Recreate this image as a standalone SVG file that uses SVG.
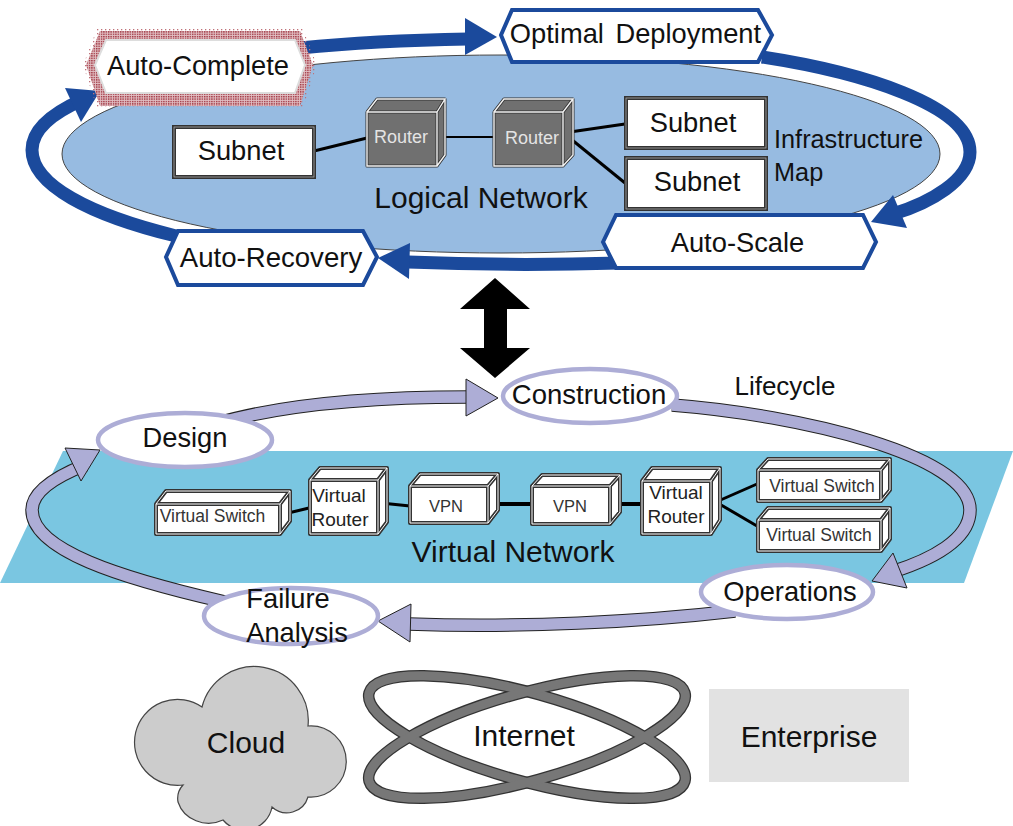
<svg xmlns="http://www.w3.org/2000/svg" width="1013" height="826" viewBox="0 0 1013 826">
<style>
text{font-family:"Liberation Sans",Arial,sans-serif;fill:#111;text-anchor:middle}
.t27{font-size:27.3px}.t30{font-size:30px}.t25{font-size:25.3px}.t17{font-size:17.5px;fill:#333}.t16{font-size:16.5px;fill:#333}.t19{font-size:19px;fill:#222}
.rt{font-size:18px;fill:#e4e4e4}
.hex{fill:#fff;stroke:#1B4A9C;stroke-width:4}
.blue{fill:none;stroke:#1B4A9C;stroke-width:13}
.bh{fill:#1B4A9C}
.pe{fill:none;stroke:#222;stroke-width:13.5}
.pi{fill:none;stroke:#ADADD6;stroke-width:11.5}
.ph{fill:#ADADD6;stroke:#222;stroke-width:1}
.oval{fill:#fff;stroke:#ADADD6;stroke-width:4.5}
.so{fill:#fff;stroke:#333;stroke-width:4}
.si{fill:none;stroke:#aaa;stroke-width:.8}
.bg{fill:#fff}
.eo{fill:none;stroke:#333;stroke-width:4;stroke-linejoin:round}
.ei{fill:none;stroke:#fff;stroke-width:1}
.rf{fill:#707070}
.ro{fill:none;stroke:#333;stroke-width:3;stroke-linejoin:round}
.ri{fill:none;stroke:#f2f2f2;stroke-width:1.4}
.l{stroke:#000;fill:none}
.io{fill:none;stroke:#333;stroke-width:11.5}
.ii{fill:none;stroke:#777;stroke-width:9}
</style>
<defs>
<pattern id="dots" width="2.4" height="2.4" patternUnits="userSpaceOnUse"><rect width="2.4" height="2.4" fill="#e2c0c4"/><rect width="1.4" height="1.4" fill="#a03440"/></pattern>
<pattern id="dots2" width="4" height="4" patternUnits="userSpaceOnUse"><rect x="1" y="1" width="1.3" height="1.3" fill="#c0727a"/></pattern>
<path id="r1" d="M367,112 H437 V166 H367 Z M367,112 L377,99 H445 L437,112 M437,166 L445,155 V99"/>
<path id="r2" d="M494,112 H563 V166 H494 Z M494,112 L504,99 H573 L563,112 M563,166 L573,155 V99"/>
<path id="b1" d="M156,504 H280 V534 H156 Z M156,504 L166,491 H290 L280,504 M280,534 L290,521 V491"/>
<path id="b2" d="M310,480 H378 V534 H310 Z M310,480 L320,468 H387 L378,480 M378,534 L387,522 V468"/>
<path id="b3" d="M410,486 H488 V523 H410 Z M410,486 L420,474 H498 L488,486 M488,523 L498,510 V474"/>
<path id="b4" d="M532,486 H610 V524 H532 Z M532,486 L542,475 H620 L610,486 M610,524 L620,512 V475"/>
<path id="b5" d="M642,481 H711 V534 H642 Z M642,481 L652,468 H720 L711,481 M711,534 L720,520 V468"/>
<path id="b6" d="M758,470 H881 V501 H758 Z M758,470 L768,459 H890 L881,470 M881,501 L890,490 V459"/>
<path id="b7" d="M758,520 H881 V551 H758 Z M758,520 L768,508 H890 L881,520 M881,551 L890,539 V508"/>
</defs>
<rect width="1013" height="826" fill="#fff"/>
<g id="logical-area"><ellipse cx="501" cy="154" rx="439" ry="99" fill="#97BBE1" stroke="#444" stroke-width="1"/></g>
<g id="virtual-area"><polygon points="63,451 1013,451 964,583 0,583" fill="#7AC6E1"/></g>
<g id="connectors">
<path class="blue" d="M300,48 C350,43 410,40 468,39"/>
<polygon class="bh" points="465,18 497,37 465,55"/>
<path class="blue" d="M762,57 C860,72 970,105 970,152 C970,180 930,203 893,214"/>
<polygon class="bh" points="871,222 893,195 907,228"/>
<path class="blue" d="M620,263 C550,265 480,265 408,262"/>
<polygon class="bh" points="378,258 410,243 409,279"/>
<path class="blue" d="M176,236 C90,215 32,185 32,150 C32,128 55,112 82,100"/>
<polygon class="bh" points="100,91 65,88 81,122"/>
<path class="pe" d="M215,424 C290,402 390,397 468,397"/><path class="pi" d="M215,424 C290,402 390,397 468,397"/>
<polygon class="ph" points="466,379 498,398 466,416"/>
<path class="pe" d="M672,405 C800,415 970,455 970,510 C970,540 930,560 892,572"/><path class="pi" d="M672,405 C800,415 970,455 970,510 C970,540 930,560 892,572"/>
<polygon class="ph" points="872,581 893,553 907,588"/>
<path class="pe" d="M735,611 C640,622 520,628 409,624"/><path class="pi" d="M735,611 C640,622 520,628 409,624"/>
<polygon class="ph" points="378,621 411,604 410,642"/>
<path class="pe" d="M225,602 C120,578 32,550 32,510 C32,490 60,475 85,465"/><path class="pi" d="M225,602 C120,578 32,550 32,510 C32,490 60,475 85,465"/>
<polygon class="ph" points="100,450 65,448 81,481"/>
<path class="l" stroke-width="3" d="M314,151 L367,138"/>
<path class="l" stroke-width="2" d="M437,137 L494,137"/>
<path class="l" stroke-width="3" d="M563,133 L625,124"/>
<path class="l" stroke-width="3" d="M566,135 L625,183"/>
<path class="l" stroke-width="3" d="M284,514 L309,508"/>
<path class="l" stroke-width="3" d="M381,503 L410,506"/>
<path class="l" stroke-width="4" d="M492,504 L531,504"/>
<path class="l" stroke-width="4" d="M612,504 L642,504"/>
<path class="l" stroke-width="3" d="M716,502 L757,484"/>
<path class="l" stroke-width="3" d="M716,502 L757,526"/>
<polygon fill="#000" points="495,278 530,309 507,309 507,348 530,348 495,378 460,348 484,348 484,309 460,309"/>
</g>
<g id="auto-complete"><polygon points="83,65 97,29 303,29 317,65 303,108 97,108" fill="url(#dots2)"/><polygon points="86,65 100,31 300,31 313,65 300,106 100,106" fill="url(#dots)"/><polygon points="95,65 106,40 295,40 305,65 295,93 106,93" fill="#fff" stroke="#ddd" stroke-width="2"/><text class="t27" x="198" y="75">Auto-Complete</text></g>
<g id="optimal-deployment"><polygon class="hex" points="501,35 512,10 758,10 772,35 758,62 512,62"/><text class="t27" x="635.500" y="43" style="word-spacing:4px">Optimal Deployment</text></g>
<g id="auto-scale"><polygon class="hex" points="603,242 616,215 863,215 876,242 863,268 616,268"/><text class="t27" x="737.500" y="252">Auto-Scale</text></g>
<g id="auto-recovery"><polygon class="hex" points="166,257 178,231 363,231 377,257 363,285 178,285"/><text class="t27" x="271" y="267" style="font-size:27.6px">Auto-Recovery</text></g>
<g id="subnet-1"><rect class="so" x="174" y="127" width="140" height="50"/><rect class="si" x="174" y="127" width="140" height="50"/><text class="t27" x="241" y="160">Subnet</text></g>
<g id="subnet-2"><rect class="so" x="626" y="98" width="140" height="50"/><rect class="si" x="626" y="98" width="140" height="50"/><text class="t27" x="693" y="132">Subnet</text></g>
<g id="subnet-3"><rect class="so" x="626" y="158" width="140" height="51"/><rect class="si" x="626" y="158" width="140" height="51"/><text class="t27" x="697" y="191">Subnet</text></g>
<g id="router-1"><polygon class="rf" points="367,112 377,99 445,99 445,155 437,166 367,166"/><use href="#r1" class="ro"/><use href="#r1" class="ri"/><text class="rt" x="401" y="143">Router</text></g>
<g id="router-2"><polygon class="rf" points="494,112 504,99 573,99 573,155 563,166 494,166"/><use href="#r2" class="ro"/><use href="#r2" class="ri"/><text class="rt" x="532" y="144">Router</text></g>
<text class="t30" x="481" y="208">Logical Network</text>
<text class="t25" x="774" y="148" style="text-anchor:start">Infrastructure</text>
<text class="t25" x="774" y="181" style="text-anchor:start">Map</text>
<g id="vs-1"><polygon class="bg" points="156,504 166,491 290,491 290,521 280,534 156,534"/><use href="#b1" class="eo"/><use href="#b1" class="ei"/><text class="t17" x="212.500" y="522">Virtual Switch</text></g>
<g id="vr-1"><polygon class="bg" points="310,480 320,468 387,468 387,522 378,534 310,534"/><use href="#b2" class="eo"/><use href="#b2" class="ei"/><text class="t19" x="339" y="502">Virtual</text><text class="t19" x="340" y="526">Router</text></g>
<g id="vpn-1"><polygon class="bg" points="410,486 420,474 498,474 498,510 488,523 410,523"/><use href="#b3" class="eo"/><use href="#b3" class="ei"/><text class="t16" x="446" y="512">VPN</text></g>
<g id="vpn-2"><polygon class="bg" points="532,486 542,475 620,475 620,512 610,524 532,524"/><use href="#b4" class="eo"/><use href="#b4" class="ei"/><text class="t16" x="570" y="512">VPN</text></g>
<g id="vr-2"><polygon class="bg" points="642,481 652,468 720,468 720,520 711,534 642,534"/><use href="#b5" class="eo"/><use href="#b5" class="ei"/><text class="t19" x="676" y="499">Virtual</text><text class="t19" x="676" y="523">Router</text></g>
<g id="vs-2"><polygon class="bg" points="758,470 768,459 890,459 890,490 881,501 758,501"/><use href="#b6" class="eo"/><use href="#b6" class="ei"/><text class="t17" x="822" y="492">Virtual Switch</text></g>
<g id="vs-3"><polygon class="bg" points="758,520 768,508 890,508 890,539 881,551 758,551"/><use href="#b7" class="eo"/><use href="#b7" class="ei"/><text class="t17" x="819" y="541">Virtual Switch</text></g>
<text class="t30" x="513" y="562">Virtual Network</text>
<text x="785" y="395" style="font-size:26px">Lifecycle</text>
<g id="design"><ellipse class="oval" cx="185" cy="440" rx="87" ry="27"/><text class="t27" x="185" y="447">Design</text></g>
<g id="construction"><ellipse class="oval" cx="590" cy="396" rx="87" ry="27"/><text class="t27" x="589" y="404" style="font-size:27.5px">Construction</text></g>
<g id="operations"><ellipse class="oval" cx="787" cy="592" rx="86" ry="27"/><text class="t27" x="790" y="601">Operations</text></g>
<g id="failure-analysis"><ellipse class="oval" cx="291" cy="616" rx="87" ry="28"/><text class="t27" x="288" y="608">Failure</text><text class="t27" x="297" y="642">Analysis</text></g>
<g id="cloud"><path d="M202,707 A54,54 0 0 1 308,726 A35.600,35.600 0 1 1 308,797 A22,22 0 0 1 272,807 A28,28 0 0 1 223,820 A32,30 0 0 1 178,802 A20,20 0 0 1 183,785 A43,43 0 1 1 202,707 Z" fill="#CCC" stroke="#444" stroke-width="1.2"/><text class="t30" x="246" y="753">Cloud</text></g>
<g id="internet"><ellipse class="io" cx="527" cy="737" rx="164" ry="44" transform="rotate(15.700 527 737)"/><ellipse class="io" cx="527" cy="737" rx="164" ry="44" transform="rotate(-15.700 527 737)"/><ellipse class="ii" cx="527" cy="737" rx="164" ry="44" transform="rotate(15.700 527 737)"/><ellipse class="ii" cx="527" cy="737" rx="164" ry="44" transform="rotate(-15.700 527 737)"/><text class="t30" x="524" y="746">Internet</text></g>
<g id="enterprise"><rect x="709" y="689" width="200" height="93" fill="#E2E2E2"/><text class="t30" x="809" y="747">Enterprise</text></g>
</svg>
